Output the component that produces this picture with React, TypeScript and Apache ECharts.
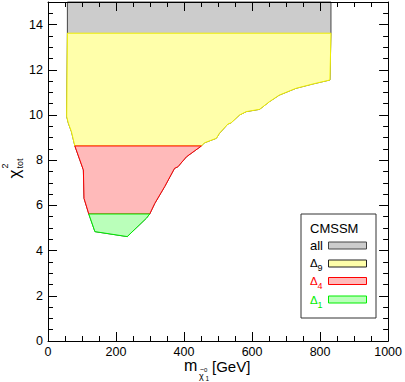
import React, { useEffect, useRef } from "react";
import * as echarts from "echarts";

const FONT = '"Liberation Sans", Arial, Helvetica, sans-serif';

// x ticks (GeV), y ticks (chi^2)
const xMajorTicks = [0, 200, 400, 600, 800, 1000];
const yMajorTicks = [0, 2, 4, 6, 8, 10, 12, 14];

// Regions: [m_chi (GeV), chi2_tot]
const allRegion: number[][] = [
  [57, 15], [832, 15], [832, 13.62], [829, 11.55], [778, 11.37], [729, 11.18], [680, 10.88],
  [651, 10.59], [622, 10.25], [583, 10.15], [563, 10.0], [539, 9.66], [529, 9.6], [504, 9.19],
  [495, 8.97], [460, 8.77], [451, 8.63], [407, 8.15], [382, 7.71], [372, 7.64], [343, 6.83],
  [314, 6.09], [299, 5.62], [289, 5.43], [233, 4.62], [138, 4.84], [120, 5.62], [106, 6.31],
  [104, 7.57], [79, 8.63], [69, 9.26], [60, 9.63], [55, 9.93], [57, 13.62],
];
const delta9Region: number[][] = [
  [57, 13.62], [832, 13.62], [829, 11.55], [778, 11.37], [729, 11.18], [680, 10.88],
  [651, 10.59], [622, 10.25], [583, 10.15], [563, 10.0], [539, 9.66], [529, 9.6], [504, 9.19],
  [495, 8.97], [460, 8.77], [451, 8.63], [79, 8.63], [69, 9.26], [60, 9.63], [55, 9.93],
];
const delta4Region: number[][] = [
  [79, 8.63], [451, 8.63], [407, 8.15], [382, 7.71], [372, 7.64], [343, 6.83], [314, 6.09],
  [299, 5.62], [120, 5.62], [106, 6.31], [104, 7.57],
];
const delta1Region: number[][] = [
  [120, 5.62], [299, 5.62], [289, 5.43], [233, 4.62], [138, 4.84],
];

const FILL_ALL = "#cccccc";
const FILL_9 = "#ffffaa";
const FILL_4 = "#ffbaba";
const FILL_1 = "#baffba";
const STROKE_ALL = "#444444";
const STROKE_9 = "#f0f000";
const STROKE_4 = "#ff0000";
const STROKE_1 = "#00ee00";

function polySeries(name: string, pts: number[][], fill: string, stroke: string) {
  return {
    type: "custom",
    name,
    xAxisIndex: 0,
    yAxisIndex: 0,
    silent: true,
    data: pts,
    encode: { x: 0, y: 1 },
    renderItem: (params: any, api: any) => {
      if (params.dataIndex !== 0) return null;
      const points = pts.map((p) => api.coord(p));
      return {
        type: "polygon",
        shape: { points },
        style: { fill, stroke, lineWidth: 1 },
      };
    },
  };
}

const ls = () => ({ color: "#000000", width: 1, opacity: 1 });

export default function App() {
  const ref = useRef<HTMLDivElement>(null);
  useEffect(() => {
    if (!ref.current) return;
    const chart = echarts.init(ref.current, undefined, { renderer: "svg" });
    const xMax = xMajorTicks[xMajorTicks.length - 1];
    const yMax = 15;
    const xAx = (position: string, interval: number, major: boolean, labels: boolean) => ({
      type: "value",
      min: 0,
      max: xMax,
      position,
      interval,
      z: 10,
      splitLine: { show: false },
      axisLine: { show: major, onZero: false, lineStyle: ls() },
      axisTick: { show: true, inside: true, length: major ? 9 : 5, lineStyle: ls() },
      axisLabel: labels
        ? { show: true, fontSize: 12.5, color: "#000", fontFamily: FONT, margin: 4, formatter: (v: number) => String(v) }
        : { show: false },
    });
    const yAx = (position: string, interval: number, major: boolean, labels: boolean) => ({
      type: "value",
      min: 0,
      max: yMax,
      position,
      interval,
      z: 10,
      splitLine: { show: false },
      axisLine: { show: major, onZero: false, lineStyle: ls() },
      axisTick: { show: true, inside: true, length: major ? 9 : 5, lineStyle: ls() },
      axisLabel: labels
        ? {
            show: true, fontSize: 12.5, color: "#000", fontFamily: FONT, margin: 5, showMaxLabel: false,
            formatter: (v: number) => (yMajorTicks.includes(v) ? String(v) : ""),
          }
        : { show: false },
    });
    const t = (x: number, y: number, text: string, fontSize: number, fill = "#000", extra: any = {}) => ({
      type: "text",
      x,
      y,
      style: { text, fontSize, fontFamily: FONT, fill, verticalAlign: "middle", ...extra },
    });
    const option: any = {
      animation: false,
      backgroundColor: "#fff",
      textStyle: { fontFamily: FONT },
      grid: { left: 48, right: 16, top: 2, bottom: 41, containLabel: false },
      xAxis: [
        xAx("bottom", 200, true, true),
        xAx("bottom", 50, false, false),
        xAx("top", 200, true, false),
        xAx("top", 50, false, false),
      ],
      yAxis: [
        yAx("left", 2, true, true),
        yAx("left", 0.5, false, false),
        yAx("right", 2, true, false),
        yAx("right", 0.5, false, false),
      ],
      series: [
        polySeries("all", allRegion, FILL_ALL, STROKE_ALL),
        polySeries("Δ9", delta9Region, FILL_9, STROKE_9),
        polySeries("Δ4", delta4Region, FILL_4, STROKE_4),
        polySeries("Δ1", delta1Region, FILL_1, STROKE_1),
      ],
      graphic: [
        // x-axis title
        t(184, 365.5, "m", 16),
        t(200, 369, "~", 7),
        t(204, 369.5, "0", 6),
        t(199, 376, "χ", 9),
        t(205.5, 378.5, "1", 6.5),
        t(212, 366.5, "[GeV]", 15),
        // y-axis title (rotated)
        {
          type: "group",
          x: 14,
          y: 171,
          rotation: Math.PI / 2,
          children: [
            t(-3, 0, "χ", 17, "#000", { align: "center" }),
            t(2.5, -9.5, "2", 9),
            t(2.5, 6, "tot", 9),
          ],
        },
        // legend box
        { type: "rect", shape: { x: 301, y: 214, width: 75, height: 104 }, style: { fill: "#fff", stroke: "#333", lineWidth: 1 } },
        t(310, 228, "CMSSM", 13),
        t(310, 245.5, "all", 13),
        { type: "rect", shape: { x: 328.5, y: 242, width: 38, height: 7 }, style: { fill: FILL_ALL, stroke: STROKE_ALL, lineWidth: 1 } },
        t(310, 263, "Δ", 11.5),
        t(317.5, 268, "9", 9),
        { type: "rect", shape: { x: 328.5, y: 260, width: 38, height: 7 }, style: { fill: FILL_9, stroke: "#222", lineWidth: 1 } },
        t(310, 281, "Δ", 11.5, STROKE_4),
        t(317.5, 286, "4", 9, STROKE_4),
        { type: "rect", shape: { x: 328.5, y: 277.5, width: 38, height: 7 }, style: { fill: FILL_4, stroke: STROKE_4, lineWidth: 1 } },
        t(310, 300, "Δ", 11.5, STROKE_1),
        t(317.5, 305, "1", 9, STROKE_1),
        { type: "rect", shape: { x: 328.5, y: 296, width: 38, height: 7 }, style: { fill: FILL_1, stroke: STROKE_1, lineWidth: 1 } },
      ],
    };
    chart.setOption(option);
    return () => chart.dispose();
  }, []);
  return <div ref={ref} style={{ width: 405, height: 382, position: "absolute", left: 0, top: 0 }} />;
}
